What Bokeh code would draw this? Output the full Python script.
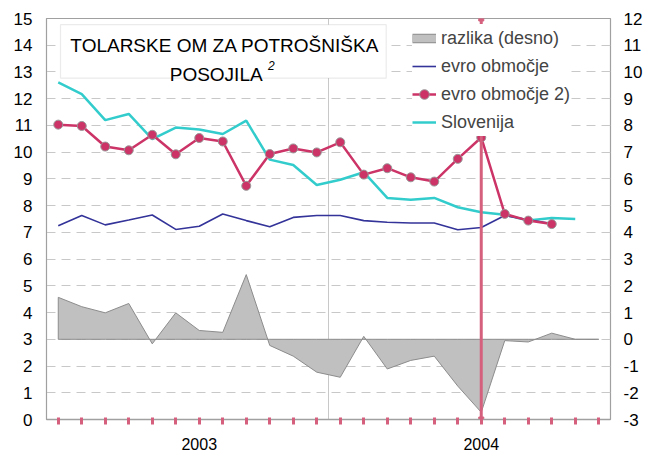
from bokeh.plotting import figure
from bokeh.models import (Range1d, LinearAxis, FixedTicker, Legend, LegendItem,
                          BoxAnnotation, Label, Span)
from bokeh.embed import file_html
from bokeh.resources import INLINE

# ---------------- data ----------------
months = ["2003-01", "2003-02", "2003-03", "2003-04", "2003-05", "2003-06",
          "2003-07", "2003-08", "2003-09", "2003-10", "2003-11", "2003-12",
          "2004-01", "2004-02", "2004-03", "2004-04", "2004-05", "2004-06",
          "2004-07", "2004-08", "2004-09", "2004-10", "2004-11", "2004-12"]
year_labels = {"2003-07": "2003", "2004-07": "2004"}
year_start = "2004-01"

evro = [7.25, 7.63, 7.28, 7.46, 7.65, 7.11, 7.23, 7.69, 7.44, 7.21, 7.56, 7.63,
        7.63, 7.44, 7.38, 7.35, 7.35, 7.10, 7.18, 7.63, 7.47, 7.33]
evro2 = [11.03, 10.98, 10.21, 10.07, 10.65, 9.92, 10.53, 10.40, 8.74, 9.93, 10.14, 9.99,
         10.37, 9.16, 9.40, 9.06, 8.90, 9.75, 10.55, 7.69, 7.44, 7.31]
slovenija = [12.61, 12.17, 11.20, 11.43, 10.49, 10.92, 10.85, 10.68, 11.18, 9.72, 9.52, 8.77,
             8.97, 9.25, 8.29, 8.22, 8.29, 7.94, 7.75, 7.66, 7.44, 7.54, 7.50]
razlika = [1.57, 1.22, 0.99, 1.34, -0.17, 0.99, 0.33, 0.26, 2.42, -0.23, -0.63, -1.23,
           -1.42, 0.11, -1.11, -0.79, -0.63, -1.75, -2.73, -0.05, -0.10, 0.23, 0.0, 0.0]

divider_month = "2004-07"
divider_y = [0, 15]

left_ticks = [0, 1, 2, 3, 4, 5, 6, 7, 8, 9, 10, 11, 12, 13, 14, 15]
right_ticks = [-3, -2, -1, 0, 1, 2, 3, 4, 5, 6, 7, 8, 9, 10, 11, 12]

FONT = "Liberation Sans"
PINK = "#D4607E"
GRID = "#C8C8C8"
FRAME = "#A0A0A0"

idx = list(range(len(months)))

p = figure(width=645, height=452, output_backend="svg", toolbar_location=None,
           x_range=Range1d(-0.5, len(months) - 0.5),
           y_range=Range1d(left_ticks[0], left_ticks[-1]),
           min_border_left=46, min_border_right=35, min_border_top=18, min_border_bottom=33,
           background_fill_color="white", border_fill_color="white")
p.extra_y_ranges = {"right": Range1d(right_ticks[0], right_ticks[-1])}
p.outline_line_color = FRAME
p.outline_line_width = 1.2

# grids
p.ygrid.ticker = FixedTicker(ticks=left_ticks[1:-1])
p.ygrid.grid_line_color = GRID
p.ygrid.grid_line_dash = "9 6"
p.ygrid.grid_line_width = 1.2
p.xgrid.ticker = FixedTicker(ticks=[months.index(year_start) - 0.5])
p.xgrid.grid_line_color = GRID
p.xgrid.grid_line_width = 1

# x axis
xa = p.xaxis[0]
xa.ticker = FixedTicker(ticks=idx)
xa.major_label_overrides = {i: year_labels.get(m, "") for i, m in enumerate(months)}
xa.major_tick_line_color = PINK
xa.major_tick_line_width = 3
xa.major_tick_in = 2
xa.major_tick_out = 5
xa.minor_tick_line_color = None
xa.axis_line_color = FRAME
xa.axis_line_width = 1.5
xa.major_label_standoff = 13
xa.major_label_text_font = FONT
xa.major_label_text_font_size = "16px"
xa.major_label_text_line_height = 0.9
xa.major_label_text_color = "black"

# left axis
ya = p.yaxis[0]
ya.ticker = FixedTicker(ticks=left_ticks)
ya.major_tick_in = 0
ya.major_tick_out = 0
ya.minor_tick_line_color = None
ya.axis_line_color = FRAME
ya.major_label_standoff = 14
ya.major_label_text_font = FONT
ya.major_label_text_font_size = "17px"
ya.major_label_text_color = "black"

# right axis
ra = LinearAxis(y_range_name="right", ticker=FixedTicker(ticks=right_ticks))
ra.major_label_overrides = {t: str(t) for t in right_ticks}
ra.major_tick_in = 0
ra.major_tick_out = 0
ra.minor_tick_line_color = None
ra.axis_line_color = None
ra.major_label_standoff = 13
ra.major_label_text_font = FONT
ra.major_label_text_font_size = "17px"
ra.major_label_text_color = "black"
p.add_layout(ra, "right")

# area (razlika) on right axis
poly_x = idx + idx[::-1]
poly_y = razlika + [0.0] * len(idx)
area = p.patch(poly_x, poly_y, y_range_name="right", fill_color="#C0C0C0",
               line_color="#8C8C8C", line_width=1)

cyan = p.line(idx[:len(slovenija)], slovenija, line_color="#33CCCC", line_width=2.5)
blue = p.line(idx[:len(evro)], evro, line_color="#333399", line_width=1.6)
red = p.line(idx[:len(evro2)], evro2, line_color="#CC3366", line_width=2.5)
redm = p.scatter(idx[:len(evro2)], evro2, size=9, marker="circle", fill_color="#CC3366",
                 line_color="#999999", line_width=1)

di = months.index(divider_month)
p.add_layout(Span(location=di, dimension="height", line_color=PINK, line_width=3))
p.scatter([di, di], divider_y, marker="square", size=5, fill_color=PINK, line_color=PINK)

# legend swatch proxies for the area (hidden copies of the area outline)
sw_border = p.line(idx, razlika, y_range_name="right", line_color="#8C8C8C",
                   line_width=9.5, visible=False)
sw_fill = p.line(idx, razlika, y_range_name="right", line_color="#C0C0C0",
                 line_width=7.5, visible=False)

# title box
box = BoxAnnotation(left=0.096, right=13.955, top=14.77, bottom=12.77,
                    fill_color="white", fill_alpha=1, line_color="#BDBDBD", line_width=1.2)
p.add_layout(box)
p.add_layout(Label(x=7.09, y=13.99, text="TOLARSKE OM ZA POTROŠNIŠKA", text_align="center",
                   text_baseline="alphabetic", text_font=FONT, text_font_size="19px",
                   text_color="black"))
p.add_layout(Label(x=6.72, y=12.91, text="POSOJILA", text_align="center",
                   text_baseline="alphabetic", text_font=FONT, text_font_size="19px",
                   text_color="black"))
p.add_layout(Label(x=8.93, y=13.24, text="2", text_align="left", text_font_style="italic",
                   text_baseline="alphabetic", text_font=FONT, text_font_size="12px",
                   text_color="black"))

# legend
leg = Legend(items=[LegendItem(label="razlika (desno)", renderers=[sw_border, sw_fill]),
                    LegendItem(label="evro območje", renderers=[blue]),
                    LegendItem(label="evro območje 2)", renderers=[red, redm]),
                    LegendItem(label="Slovenija", renderers=[cyan])],
             location=(366, 283), glyph_width=24, glyph_height=28, label_height=28,
             label_standoff=5, padding=0, margin=0, spacing=0,
             inactive_fill_alpha=0,
             background_fill_color="white", background_fill_alpha=1, border_line_color=None,
             label_text_font=FONT, label_text_font_size="18px")
p.add_layout(leg)

open("out.html", "w").write(file_html(p, INLINE))
